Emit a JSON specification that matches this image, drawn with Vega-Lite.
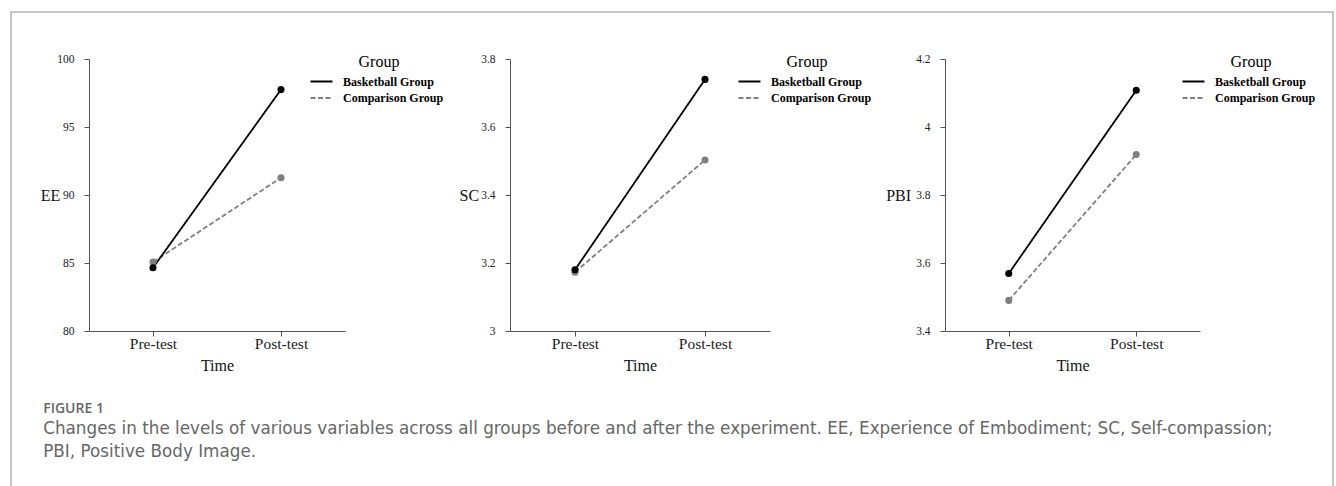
{
  "$schema": "https://vega.github.io/schema/vega-lite/v6.json",
  "background": "white",
  "padding": {"left": 10, "top": 11, "right": 0, "bottom": 0},
  "data": {"values": [
    {"panel": "EE", "Group": "Comparison Group", "Time": "Pre-test", "value": 85.07},
    {"panel": "EE", "Group": "Comparison Group", "Time": "Post-test", "value": 91.27},
    {"panel": "EE", "Group": "Basketball Group", "Time": "Pre-test", "value": 84.65},
    {"panel": "EE", "Group": "Basketball Group", "Time": "Post-test", "value": 97.75},
    {"panel": "SC", "Group": "Comparison Group", "Time": "Pre-test", "value": 3.173},
    {"panel": "SC", "Group": "Comparison Group", "Time": "Post-test", "value": 3.503},
    {"panel": "SC", "Group": "Basketball Group", "Time": "Pre-test", "value": 3.18},
    {"panel": "SC", "Group": "Basketball Group", "Time": "Post-test", "value": 3.74},
    {"panel": "PBI", "Group": "Comparison Group", "Time": "Pre-test", "value": 3.49},
    {"panel": "PBI", "Group": "Comparison Group", "Time": "Post-test", "value": 3.919},
    {"panel": "PBI", "Group": "Basketball Group", "Time": "Pre-test", "value": 3.569},
    {"panel": "PBI", "Group": "Basketball Group", "Time": "Post-test", "value": 4.108}
  ]},
  "bounds": "flush",
  "spacing": 0,
  "resolve": {"scale": {"x": "independent", "y": "independent"}},
  "hconcat": [
    {
      "bounds": "flush",
      "spacing": 46,
      "resolve": {"scale": {"x": "independent", "y": "independent"}},
      "vconcat": [
        {
          "width": 1,
          "height": 1,
          "data": {"values": [{"edge": "spacer"}]},
          "mark": {"type": "point", "opacity": 0, "size": 1}
        },
        {
          "bounds": "flush",
          "spacing": 77,
          "resolve": {"scale": {"x": "independent", "y": "independent"}},
          "hconcat": [
            {
              "width": 1,
              "height": 1,
              "data": {"values": [{"edge": "spacer"}]},
              "mark": {"type": "point", "opacity": 0, "size": 1}
            },
            {
              "title": {
                "text": "FIGURE 1",
                "subtitle": ["Changes in the levels of various variables across all groups before and after the experiment. EE, Experience of Embodiment; SC, Self-compassion;", "PBI, Positive Body Image."],
                "orient": "bottom",
                "anchor": "start",
                "frame": "bounds",
                "dx": 3,
                "offset": 28
              },
              "bounds": "flush",
              "spacing": 165,
              "resolve": {"scale": {"color": "independent", "strokeDash": "independent", "fill": "independent", "x": "independent", "y": "independent"}, "legend": {"color": "independent", "strokeDash": "independent"}},
              "hconcat": [
                {
                  "width": 256,
                  "height": 272,
                  "transform": [{"filter": "datum.panel === 'EE'"}],
                  "encoding": {
                    "x": {"field": "Time", "type": "nominal", "sort": ["Pre-test", "Post-test"], "scale": {"type": "point", "padding": 0.5}, "axis": {"title": "Time"}},
                    "y": {"field": "value", "type": "quantitative", "scale": {"domain": [80, 100], "nice": false, "zero": false}, "axis": {"title": "EE", "values": [80, 85, 90, 95, 100], "titlePadding": -3}}
                  },
                  "layer": [
                    {
                      "mark": {"type": "line", "strokeWidth": 1.8},
                      "encoding": {
                        "color": {"field": "Group", "type": "nominal", "scale": {"domain": ["Basketball Group", "Comparison Group"], "range": ["#000000", "#7f7f7f"]}, "legend": {"title": "Group", "orient": "none", "legendX": 226, "legendY": -5}},
                        "strokeDash": {"field": "Group", "type": "nominal", "scale": {"domain": ["Basketball Group", "Comparison Group"], "range": [[1, 0], [5, 2.5]]}, "legend": {"title": "Group", "orient": "none", "legendX": 226, "legendY": -5}}
                      }
                    },
                    {
                      "mark": {"type": "circle", "size": 50, "opacity": 1},
                      "encoding": {
                        "fill": {"field": "Group", "type": "nominal", "scale": {"domain": ["Basketball Group", "Comparison Group"], "range": ["#000000", "#7f7f7f"]}, "legend": null}
                      }
                    }
                  ]
                },
                {
                  "bounds": "flush",
                  "spacing": 175,
                  "resolve": {"scale": {"color": "independent", "strokeDash": "independent", "fill": "independent", "x": "independent", "y": "independent"}, "legend": {"color": "independent", "strokeDash": "independent"}},
                  "hconcat": [
                    {
                      "width": 260,
                      "height": 272,
                      "transform": [{"filter": "datum.panel === 'SC'"}],
                      "encoding": {
                        "x": {"field": "Time", "type": "nominal", "sort": ["Pre-test", "Post-test"], "scale": {"type": "point", "padding": 0.5}, "axis": {"title": "Time"}},
                        "y": {"field": "value", "type": "quantitative", "scale": {"domain": [3, 3.8], "nice": false, "zero": false}, "axis": {"title": "SC", "values": [3, 3.2, 3.4, 3.6, 3.8], "titlePadding": 2}}
                      },
                      "layer": [
                        {
                          "mark": {"type": "line", "strokeWidth": 1.8},
                          "encoding": {
                            "color": {"field": "Group", "type": "nominal", "scale": {"domain": ["Basketball Group", "Comparison Group"], "range": ["#000000", "#7f7f7f"]}, "legend": {"title": "Group", "orient": "none", "legendX": 233, "legendY": -5}},
                            "strokeDash": {"field": "Group", "type": "nominal", "scale": {"domain": ["Basketball Group", "Comparison Group"], "range": [[1, 0], [5, 2.5]]}, "legend": {"title": "Group", "orient": "none", "legendX": 233, "legendY": -5}}
                          }
                        },
                        {
                          "mark": {"type": "circle", "size": 50, "opacity": 1},
                          "encoding": {
                            "fill": {"field": "Group", "type": "nominal", "scale": {"domain": ["Basketball Group", "Comparison Group"], "range": ["#000000", "#7f7f7f"]}, "legend": null}
                          }
                        }
                      ]
                    },
                    {
                      "width": 255,
                      "height": 272,
                      "transform": [{"filter": "datum.panel === 'PBI'"}],
                      "encoding": {
                        "x": {"field": "Time", "type": "nominal", "sort": ["Pre-test", "Post-test"], "scale": {"type": "point", "padding": 0.5}, "axis": {"title": "Time"}},
                        "y": {"field": "value", "type": "quantitative", "scale": {"domain": [3.4, 4.2], "nice": false, "zero": false}, "axis": {"title": "PBI", "values": [3.4, 3.6, 3.8, 4, 4.2], "titlePadding": 5}}
                      },
                      "layer": [
                        {
                          "mark": {"type": "line", "strokeWidth": 1.8},
                          "encoding": {
                            "color": {"field": "Group", "type": "nominal", "scale": {"domain": ["Basketball Group", "Comparison Group"], "range": ["#000000", "#7f7f7f"]}, "legend": {"title": "Group", "orient": "none", "legendX": 242, "legendY": -5}},
                            "strokeDash": {"field": "Group", "type": "nominal", "scale": {"domain": ["Basketball Group", "Comparison Group"], "range": [[1, 0], [5, 2.5]]}, "legend": {"title": "Group", "orient": "none", "legendX": 242, "legendY": -5}}
                          }
                        },
                        {
                          "mark": {"type": "circle", "size": 50, "opacity": 1},
                          "encoding": {
                            "fill": {"field": "Group", "type": "nominal", "scale": {"domain": ["Basketball Group", "Comparison Group"], "range": ["#000000", "#7f7f7f"]}, "legend": null}
                          }
                        }
                      ]
                    }
                  ]
                }
              ]
            }
          ]
        }
      ]
    },
    {
      "width": 1322,
      "height": 474,
      "data": {"values": [{"edge": "frame"}]},
      "layer": [
        {"mark": {"type": "rule", "color": "#8c8c8c", "strokeWidth": 1}, "encoding": {"y": {"datum": 1, "type": "quantitative", "scale": {"domain": [0, 1]}, "axis": null}}},
        {"mark": {"type": "rule", "color": "#8c8c8c", "strokeWidth": 1}, "encoding": {"x": {"datum": 0, "type": "quantitative", "scale": {"domain": [0, 1]}, "axis": null}}},
        {"mark": {"type": "rule", "color": "#8c8c8c", "strokeWidth": 1}, "encoding": {"x": {"datum": 1, "type": "quantitative", "scale": {"domain": [0, 1]}, "axis": null}}}
      ]
    }
  ],
  "config": {
    "view": {"stroke": null},
    "font": "Liberation Serif",
    "axis": {
      "domainColor": "#555555",
      "tickColor": "#555555",
      "tickSize": 5,
      "grid": false,
      "labelFont": "Liberation Serif",
      "titleFont": "Liberation Serif",
      "labelColor": "#222222",
      "titleColor": "#111111",
      "titleFontWeight": "normal",
      "titleFontSize": 16
    },
    "axisX": {"labelFontSize": 15.5, "labelAngle": 0, "labelPadding": 0, "titlePadding": 6},
    "axisY": {"labelFontSize": 11.5, "labelPadding": 10, "format": "~r", "titleAngle": 0, "titleAlign": "right", "titleBaseline": "middle"},
    "legend": {
      "symbolType": "M-2,0H2",
      "symbolSize": 121,
      "symbolStrokeWidth": 1.8,
      "labelOffset": 15,
      "labelFont": "Liberation Serif",
      "labelFontSize": 12,
      "labelFontWeight": "bold",
      "labelColor": "#000000",
      "titleFont": "Liberation Serif",
      "titleFontSize": 16,
      "titleFontWeight": "normal",
      "titleColor": "#000000",
      "titleAnchor": "middle",
      "titlePadding": 5,
      "rowPadding": 3.5,
      "padding": 0
    },
    "title": {
      "font": "Open Sans",
      "fontSize": 14,
      "fontWeight": 600,
      "color": "#666666",
      "subtitleFont": "DejaVu Sans",
      "subtitleFontSize": 16.8,
      "subtitleFontWeight": "normal",
      "subtitleColor": "#666666",
      "subtitleLineHeight": 23,
      "subtitlePadding": 5
    }
  }
}
